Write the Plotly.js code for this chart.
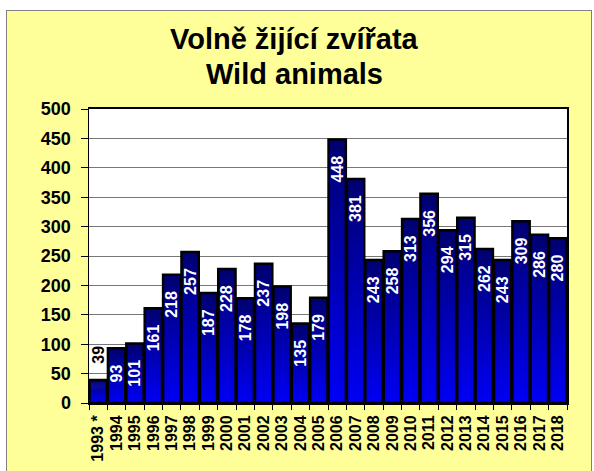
<!DOCTYPE html>
<html>
<head>
<meta charset="utf-8">
<script src="https://cdn.plot.ly/plotly-3.0.1.min.js"></script>
<style>
  html, body { margin: 0; padding: 0; background: #ffffff; width: 594px; height: 471px; overflow: hidden; }
  #frame { position: absolute; left: 6px; top: 10px; width: 584px; height: 470px;
           background: #FFFF99; border: 1px solid #808080; border-bottom: none; }
  #chart { position: absolute; left: 0; top: 0; width: 584px; height: 460px; }
</style>
</head>
<body>
<div id="frame"><div id="chart"></div></div>
<script>
// ---- data ----
const years = ["1993 *", "1994", "1995", "1996", "1997", "1998", "1999", "2000", "2001", "2002",
               "2003", "2004", "2005", "2006", "2007", "2008", "2009", "2010", "2011", "2012",
               "2013", "2014", "2015", "2016", "2017", "2018"];
const animals = [39, 93, 101, 161, 218, 257, 187, 228, 178, 237,
                 198, 135, 179, 448, 381, 243, 258, 313, 356, 294,
                 315, 262, 243, 309, 286, 280];
const yTicks = [0, 50, 100, 150, 200, 250, 300, 350, 400, 450, 500];
const titleLines = ['Volně žijící zvířata', 'Wild animals'];

// ---- gradient fill (bright blue at base to navy at top), built from the values ----
const N = 24;
const traces = [];
function mix(a, b, t) { return Math.round(a + (b - a) * t); }
for (let k = 0; k < N; k++) {
  const t = (k + 0.5) / N;
  const col = `rgb(0,0,${mix(245, 112, t)})`;
  const over = (k < N - 1) ? 1.6 : 1.0;   // overlap the next slice to hide seams
  traces.push({
    type: 'bar', x: years,
    y: animals.map(v => v * over / N),
    base: animals.map(v => v * k / N),
    marker: { color: col, line: { width: 0 } },
    hoverinfo: 'skip', showlegend: false
  });
}
// outline + value labels
const pad = '\u00a0\u00a0\u00a0';
const small = animals.map(v => v < 60);
traces.push({
  type: 'bar', x: years, y: animals,
  marker: { color: 'rgba(0,0,0,0)', line: { color: '#000000', width: 2.5 } },
  text: animals.map((v, i) => small[i] ? pad + v : v + pad),
  textposition: animals.map((v, i) => small[i] ? 'outside' : 'inside'),
  insidetextanchor: 'end',
  textangle: -90,
  constraintext: 'none',
  cliponaxis: false,
  insidetextfont: { family: 'Liberation Sans, Arial, sans-serif', size: 16, color: '#ffffff', weight: 'bold' },
  outsidetextfont: { family: 'Liberation Sans, Arial, sans-serif', size: 16, color: '#000000', weight: 'bold' },
  showlegend: false
});

const titleFont = { family: 'Liberation Sans, Arial, sans-serif', size: 29, color: '#000000' };
const layout = {
  width: 584, height: 460,
  paper_bgcolor: '#FFFF99', plot_bgcolor: '#ffffff',
  margin: { l: 82, r: 24, t: 98, b: 68 },
  barmode: 'overlay', bargap: 0.06,
  font: { family: 'Liberation Sans, Arial, sans-serif', color: '#000000' },
  annotations: titleLines.map((s, i) => ({
    text: '<b>' + s + '</b>', font: titleFont,
    xref: 'paper', x: (287 - 82) / 478, xanchor: 'center',
    yref: 'paper', y: i === 0 ? 1.177 : 1.058, yanchor: 'bottom',
    showarrow: false
  })),
  xaxis: {
    type: 'category', tickangle: -90,
    tickmode: 'array', tickvals: years, ticktext: years,
    tickfont: { size: 16, weight: 'bold' },
    ticks: 'outside', ticklen: 5, tickcolor: '#000000', tickson: 'boundaries',
    showline: true, linecolor: '#000000', linewidth: 2, mirror: true,
    showgrid: false, ticklabelstandoff: 4
  },
  yaxis: {
    range: [0, 500], tickvals: yTicks, ticktext: yTicks.map(String),
    tickfont: { size: 18, weight: 'bold' },
    ticks: 'outside', ticklen: 7, tickcolor: '#000000',
    showline: true, linecolor: '#000000', linewidth: 1.5, mirror: true,
    showgrid: true, gridcolor: '#777777', gridwidth: 1,
    zeroline: false, ticklabelstandoff: 6
  }
};

Plotly.newPlot('chart', traces, layout, { displayModeBar: false, staticPlot: true });
</script>
</body>
</html>
